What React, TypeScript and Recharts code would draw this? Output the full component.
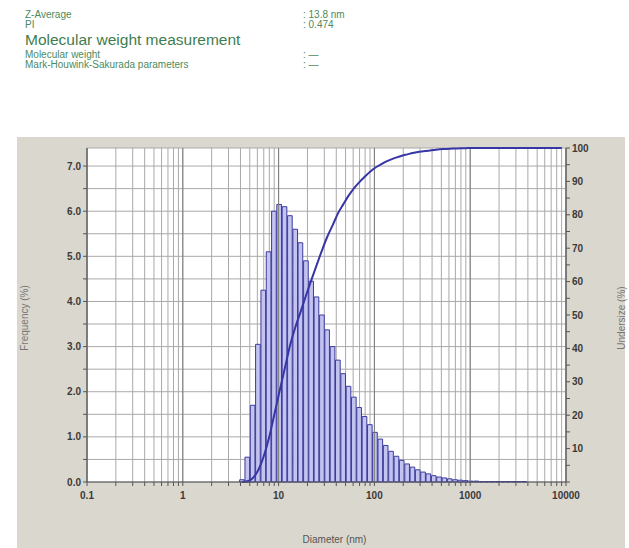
import { ComposedChart, Bar, Line, XAxis, YAxis, CartesianGrid, ReferenceLine } from 'recharts'

// bin centres (nm), log spaced
const diameters = [
  4.17, 4.74, 5.39, 6.12, 6.96, 7.91, 8.99, 10.2, 11.6, 13.2, 15.0, 17.0, 19.4, 22.0, 25.0, 28.5,
  32.3, 36.8, 41.8, 47.5, 54.0, 61.4, 69.7, 79.3, 90.1, 102, 116, 132, 150, 171, 194, 221, 251,
  285, 324, 368, 419, 476, 541, 615, 699, 794, 903, 1026, 1166, 1325, 1506, 1712, 1946, 2212,
  2514, 2857, 3247, 3690, 4194, 4767, 5418, 6158, 6998, 7954, 9040,
]

// frequency (%)
const frequency = [
  0.05, 0.55, 1.7, 3.05, 4.25, 5.1, 6.0, 6.15, 6.1, 5.9, 5.6, 5.3, 4.9, 4.45, 4.1, 3.7,
  3.37, 3.0, 2.7, 2.4, 2.12, 1.88, 1.65, 1.45, 1.27, 1.1, 0.95, 0.81, 0.68, 0.57, 0.48, 0.4, 0.33,
  0.27, 0.22, 0.18, 0.14, 0.11, 0.09, 0.07, 0.05, 0.04, 0.03, 0.02, 0.02, 0.01, 0.01, 0.01, 0.01, 0.01,
  0.01, 0.01, 0.01, 0.01, 0, 0, 0, 0, 0, 0, 0,
]

// undersize (%)
const undersize = [
  0, 0.2, 1.2, 3.5, 7.5, 13, 20, 27, 34, 41, 46.5, 51, 56, 60.5, 65, 69.5,
  73.5, 77, 80.5, 83.2, 85.8, 88, 89.8, 91.4, 92.9, 94.1, 95.0, 95.9, 96.6, 97.2, 97.7, 98.1, 98.5,
  98.8, 99.0, 99.2, 99.4, 99.6, 99.7, 99.8, 99.85, 99.9, 99.95, 100, 100, 100, 100, 100, 100, 100,
  100, 100, 100, 100, 100, 100, 100, 100, 100, 100, 100,
]

const xTicks = [
  0.1, 0.2, 0.3, 0.4, 0.5, 0.6, 0.7, 0.8, 0.9,
  1, 2, 3, 4, 5, 6, 7, 8, 9,
  10, 20, 30, 40, 50, 60, 70, 80, 90,
  100, 200, 300, 400, 500, 600, 700, 800, 900,
  1000, 2000, 3000, 4000, 5000, 6000, 7000, 8000, 9000,
  10000,
]
const xLabels = [0.1, 1, 10, 100, 1000, 10000]
const freqTicks = [0, 0.5, 1, 1.5, 2, 2.5, 3, 3.5, 4, 4.5, 5, 5.5, 6, 6.5, 7]
const undersizeTicks = [0, 5, 10, 15, 20, 25, 30, 35, 40, 45, 50, 55, 60, 65, 70, 75, 80, 85, 90, 95, 100]

const summaryRows = [
  { label: 'Z-Average', value: ': 13.8 nm' },
  { label: 'PI', value: ': 0.474' },
]
const mwRows = [
  { label: 'Molecular weight', value: ': —' },
  { label: 'Mark-Houwink-Sakurada parameters', value: ': —' },
]

const data = diameters.map((d, i) => ({ diameter: d, frequency: frequency[i], undersize: undersize[i] }))

const FONT = '"Liberation Sans", Arial, sans-serif'
const GREEN = '#4d8a5c'
const tickStyle = { fontSize: 10, fontWeight: 700, fill: '#3a3a3a', fontFamily: FONT }

function Row({ label, value, top }: { label: string; value: string; top: number }) {
  const s = { position: 'absolute' as const, top, fontSize: 10, lineHeight: '10px', color: GREEN, whiteSpace: 'nowrap' as const }
  return (
    <>
      <div style={{ ...s, left: 25 }}>{label}</div>
      <div style={{ ...s, left: 303 }}>{value}</div>
    </>
  )
}

export default function App() {
  return (
    <div style={{ position: 'absolute', left: 0, top: 0, width: 629, height: 548, background: '#fff', fontFamily: FONT, overflow: 'hidden' }}>
      {summaryRows.map((r, i) => (
        <Row key={r.label} label={r.label} value={r.value} top={10 + i * 10} />
      ))}
      <div style={{ position: 'absolute', left: 25, top: 33, fontSize: 15.5, lineHeight: '14px', color: '#3f7d50', whiteSpace: 'nowrap' }}>
        Molecular weight measurement
      </div>
      {mwRows.map((r, i) => (
        <Row key={r.label} label={r.label} value={r.value} top={50 + i * 10} />
      ))}

      <div style={{ position: 'absolute', left: 17, top: 137, width: 608, height: 411, background: '#dad7cf' }}>
        <ComposedChart width={608} height={411} data={data} margin={{ top: 11, right: 14, bottom: 36, left: 25 }}>
          <CartesianGrid yAxisId="freq" fill="#ffffff" stroke="#a9a9a9" strokeWidth={1} />
          <XAxis
            dataKey="diameter"
            type="number"
            scale="log"
            domain={[0.1, 10000]}
            allowDataOverflow
            ticks={xTicks}
            interval={0}
            tickFormatter={(v: number) => (xLabels.includes(v) ? String(v) : '')}
            tick={{ ...tickStyle, dy: 4 }}
            tickSize={4}
            stroke="#555"
            height={30}
          />
          <YAxis
            yAxisId="freq"
            orientation="left"
            domain={[0, 7.4]}
            ticks={freqTicks}
            interval={0}
            tickFormatter={(v: number) => (Number.isInteger(v) ? v.toFixed(1) : '')}
            tick={tickStyle}
            tickSize={4}
            stroke="#555"
            width={45}
          />
          <YAxis
            yAxisId="under"
            orientation="right"
            domain={[0, 100]}
            ticks={undersizeTicks}
            interval={0}
            tickFormatter={(v: number) => (v > 0 && v % 10 === 0 ? String(v) : '')}
            tick={tickStyle}
            tickSize={4}
            stroke="#555"
            width={45}
          />
          {xLabels.map((v) => (
            <ReferenceLine key={v} x={v} yAxisId="freq" stroke="#7e7e7e" strokeWidth={1} />
          ))}
          <Bar
            yAxisId="freq"
            dataKey="frequency"
            barSize={5.3}
            fill="#c3c3ee"
            stroke="#3b3b9e"
            strokeWidth={1}
            isAnimationActive={false}
          />
          <Line
            yAxisId="under"
            dataKey="undersize"
            type="monotone"
            stroke="#3636a6"
            strokeWidth={2}
            dot={false}
            isAnimationActive={false}
          />
        </ComposedChart>
      </div>

      <div style={{ position: 'absolute', left: 0, width: 629, top: 534, textAlign: 'center', fontSize: 10, color: '#555', paddingLeft: 20 }}>
        Diameter (nm)
      </div>
      <div style={{ position: 'absolute', left: 24, top: 318, transform: 'translate(-50%, -50%) rotate(-90deg)', fontSize: 10, color: '#777', whiteSpace: 'nowrap' }}>
        Frequency (%)
      </div>
      <div style={{ position: 'absolute', left: 621, top: 318, transform: 'translate(-50%, -50%) rotate(-90deg)', fontSize: 10, color: '#777', whiteSpace: 'nowrap' }}>
        Undersize (%)
      </div>
    </div>
  )
}
